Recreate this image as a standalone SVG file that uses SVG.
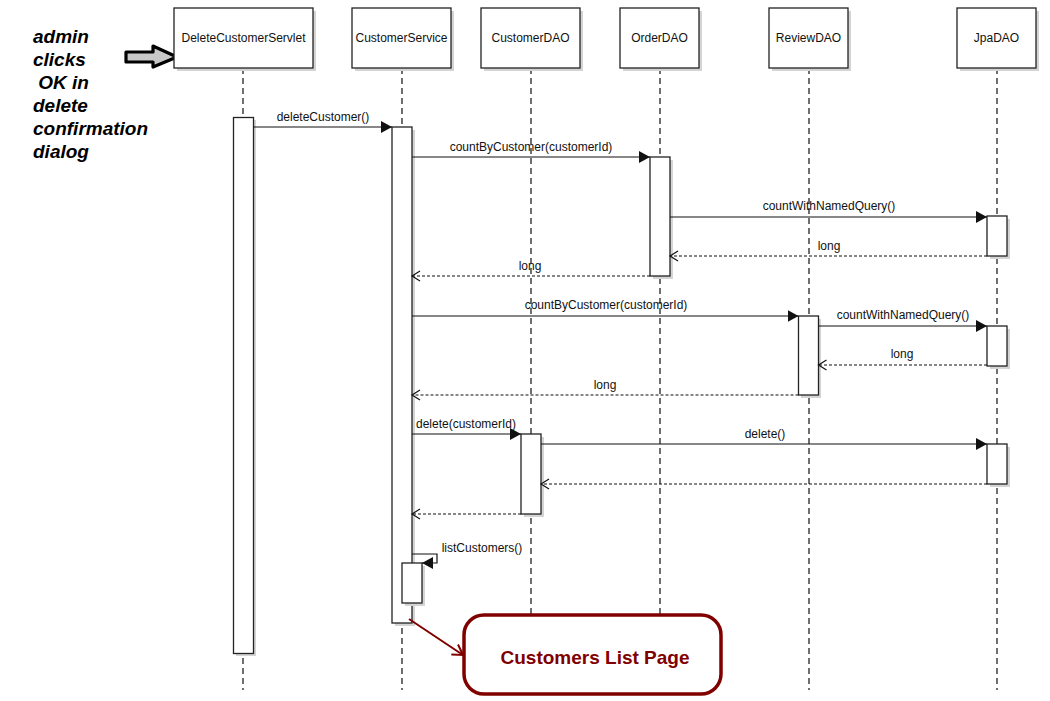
<svg xmlns="http://www.w3.org/2000/svg" width="1050" height="701" viewBox="0 0 1050 701">
<style>
.box{fill:#fff;stroke:#222;stroke-width:1.3}
.sh{fill:#d4d4d4}
.life{stroke:#222;stroke-width:1.3;stroke-dasharray:6,4;fill:none}
.msg{stroke:#111;stroke-width:1.2;fill:none}
.ret{stroke:#111;stroke-width:1.2;fill:none;stroke-dasharray:3,2}
.lbl{font-family:"Liberation Sans",Arial,sans-serif;font-size:12px;fill:#111;text-anchor:middle}
.note{font-family:"Liberation Sans",Arial,sans-serif;font-size:19px;font-weight:bold;font-style:italic;fill:#000}
</style>
<defs>
<marker id="fill" markerUnits="userSpaceOnUse" markerWidth="12" markerHeight="14" refX="11" refY="6" orient="auto">
<path d="M0,0 L11,6 L0,12 z" fill="#111"/>
</marker>
<marker id="open" markerUnits="userSpaceOnUse" markerWidth="12" markerHeight="14" refX="9" refY="6" orient="auto">
<path d="M1,1 L9,6 L1,11" fill="none" stroke="#111" stroke-width="1.2"/>
</marker>
<marker id="redopen" markerUnits="userSpaceOnUse" markerWidth="16" markerHeight="16" refX="11" refY="7" orient="auto">
<path d="M1,1 L11,7 L1,13" fill="none" stroke="#800000" stroke-width="2"/>
</marker>
</defs>
<rect width="1050" height="701" fill="#fff"/>

<g id="note">
<text class="note" x="33" y="43">admin</text>
<text class="note" x="33" y="66">clicks</text>
<text class="note" x="33" y="89" xml:space="preserve"> OK in</text>
<text class="note" x="33" y="112">delete</text>
<text class="note" x="33" y="135">confirmation</text>
<text class="note" x="33" y="158">dialog</text>
<path d="M126,52 L153,52 L153,46 L177,57 L153,67 L153,62 L126,62 z" fill="#c8c8c8" stroke="#000" stroke-width="3.2" stroke-linejoin="round"/>
</g>

<g id="DeleteCustomerServlet">
<line class="life" x1="243" y1="68" x2="243" y2="690"/>
<rect class="sh" x="177" y="11" width="139" height="60"/>
<rect class="box" x="174" y="8" width="139" height="60"/>
<text class="lbl" x="243.5" y="42">DeleteCustomerServlet</text>
<rect class="sh" x="236" y="120" width="20" height="536"/>
<rect class="box" x="233.5" y="117.5" width="20" height="536"/>
</g>

<g id="CustomerService">
<line class="life" x1="402" y1="68" x2="402" y2="690"/>
<rect class="sh" x="355" y="11" width="99" height="60"/>
<rect class="box" x="352" y="8" width="99" height="60"/>
<text class="lbl" x="401.5" y="42">CustomerService</text>
<rect class="sh" x="395" y="130" width="20" height="496"/>
<rect class="box" x="392" y="127" width="20" height="496"/>
<rect class="sh" x="405" y="566" width="20" height="40"/>
<rect class="box" x="402" y="563" width="20" height="40"/>
</g>

<g id="CustomerDAO">
<line class="life" x1="531" y1="68" x2="531" y2="690"/>
<rect class="sh" x="484" y="11" width="99" height="60"/>
<rect class="box" x="481" y="8" width="99" height="60"/>
<text class="lbl" x="530.5" y="42">CustomerDAO</text>
<rect class="sh" x="524" y="437" width="20" height="80"/>
<rect class="box" x="521" y="434" width="20" height="80"/>
</g>

<g id="OrderDAO">
<line class="life" x1="660" y1="68" x2="660" y2="690"/>
<rect class="sh" x="623" y="11" width="79" height="60"/>
<rect class="box" x="620" y="8" width="79" height="60"/>
<text class="lbl" x="659.5" y="42">OrderDAO</text>
<rect class="sh" x="653" y="160" width="20" height="119"/>
<rect class="box" x="650" y="157" width="20" height="119"/>
</g>

<g id="ReviewDAO">
<line class="life" x1="809" y1="68" x2="809" y2="690"/>
<rect class="sh" x="772" y="11" width="79" height="60"/>
<rect class="box" x="769" y="8" width="79" height="60"/>
<text class="lbl" x="808.5" y="42">ReviewDAO</text>
<rect class="sh" x="801" y="319" width="20" height="79"/>
<rect class="box" x="798.5" y="316" width="20" height="79"/>
</g>

<g id="JpaDAO">
<line class="life" x1="997" y1="68" x2="997" y2="690"/>
<rect class="sh" x="960" y="11" width="79" height="60"/>
<rect class="box" x="957" y="8" width="79" height="60"/>
<text class="lbl" x="996.5" y="42">JpaDAO</text>
<rect class="sh" x="990" y="219" width="20" height="40"/>
<rect class="box" x="987" y="216" width="20" height="40"/>
<rect class="sh" x="990" y="329" width="20" height="40"/>
<rect class="box" x="987" y="326" width="20" height="40"/>
<rect class="sh" x="990" y="447" width="20" height="40"/>
<rect class="box" x="987" y="444" width="20" height="40"/>
</g>

<g id="CustomersListPage">
<rect x="464" y="615" width="257" height="79" rx="20" ry="20" fill="#fff" stroke="#800000" stroke-width="3.5"/>
<text x="595" y="664" font-family="'Liberation Sans',Arial,sans-serif" font-size="19" font-weight="bold" fill="#800000" text-anchor="middle">Customers List Page</text>
</g>

<g id="connectors">
<line class="msg" x1="253.5" y1="127" x2="392" y2="127" marker-end="url(#fill)"/>
<text class="lbl" x="323" y="121">deleteCustomer()</text>

<line class="msg" x1="412" y1="157" x2="650" y2="157" marker-end="url(#fill)"/>
<text class="lbl" x="531" y="151">countByCustomer(customerId)</text>

<line class="msg" x1="670" y1="217" x2="987" y2="217" marker-end="url(#fill)"/>
<text class="lbl" x="829" y="210">countWithNamedQuery()</text>

<line class="ret" x1="987" y1="256" x2="670" y2="256" marker-end="url(#open)"/>
<text class="lbl" x="829" y="250">long</text>

<line class="ret" x1="650" y1="276" x2="412" y2="276" marker-end="url(#open)"/>
<text class="lbl" x="530" y="270">long</text>

<line class="msg" x1="412" y1="316" x2="798.5" y2="316" marker-end="url(#fill)"/>
<text class="lbl" x="606" y="309">countByCustomer(customerId)</text>

<line class="msg" x1="818.5" y1="326" x2="987" y2="326" marker-end="url(#fill)"/>
<text class="lbl" x="903" y="319">countWithNamedQuery()</text>

<line class="ret" x1="987" y1="365" x2="818.5" y2="365" marker-end="url(#open)"/>
<text class="lbl" x="902" y="358">long</text>

<line class="ret" x1="798.5" y1="395" x2="412" y2="395" marker-end="url(#open)"/>
<text class="lbl" x="605" y="389">long</text>

<line class="msg" x1="412" y1="434" x2="521" y2="434" marker-end="url(#fill)"/>
<text class="lbl" x="466" y="428">delete(customerId)</text>

<line class="msg" x1="541" y1="444" x2="987" y2="444" marker-end="url(#fill)"/>
<text class="lbl" x="765" y="438">delete()</text>

<line class="ret" x1="987" y1="484" x2="541" y2="484" marker-end="url(#open)"/>
<line class="ret" x1="521" y1="514" x2="412" y2="514" marker-end="url(#open)"/>

<polyline class="msg" points="412,554 437,554 437,563 422,563" marker-end="url(#fill)"/>
<text class="lbl" x="482" y="552">listCustomers()</text>

<line x1="409" y1="619" x2="463" y2="655" stroke="#800000" stroke-width="2" marker-end="url(#redopen)"/>
</g>
</svg>
